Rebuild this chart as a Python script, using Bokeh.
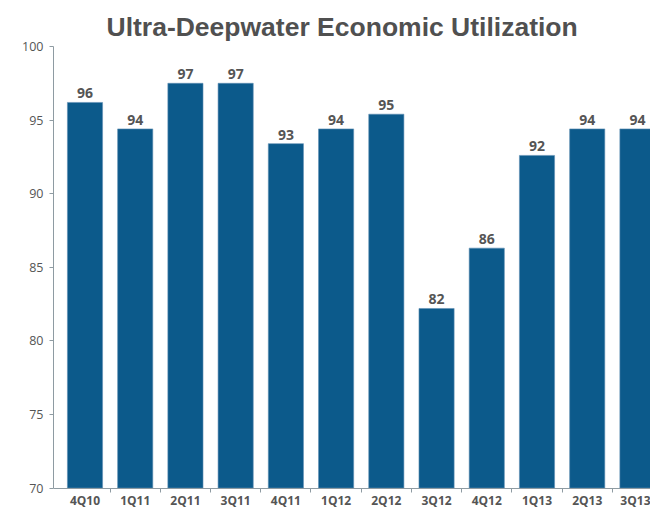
from bokeh.plotting import figure
from bokeh.models import ColumnDataSource, Range1d, FixedTicker
from bokeh.core.properties import value
from bokeh.embed import file_html
from bokeh.resources import INLINE

# Quarterly ultra-deepwater economic utilization (%)
quarters = ["4Q10", "1Q11", "2Q11", "3Q11", "4Q11", "1Q12",
            "2Q12", "3Q12", "4Q12", "1Q13", "2Q13", "3Q13"]
utilization = [96.2, 94.4, 97.5, 97.5, 93.4, 94.4,
               95.4, 82.2, 86.3, 92.6, 94.4, 94.4]
y_ticks = [70, 75, 80, 85, 90, 95, 100]

BAR_COLOR = "#0c5a8b"
TEXT_COLOR = "#555555"
AXIS_COLOR = "#8e9ba2"
Y_MIN, Y_MAX = 70, 100
# the frame runs a little below the axis floor so the quarter names fit inside it
Y_FLOOR = 68.61

xs = list(range(len(quarters)))
labels = [str(int(v)) for v in utilization]
src = ColumnDataSource(dict(x=xs, top=utilization, label=labels))

p = figure(width=650, height=508, output_backend="svg", toolbar_location=None,
           x_range=Range1d(-0.627, 11.26), y_range=Range1d(Y_FLOOR, Y_MAX),
           min_border_left=53, min_border_right=0, min_border_top=46,
           min_border_bottom=0)
p.outline_line_color = None
p.grid.visible = False
p.background_fill_color = "white"
p.border_fill_color = "white"

p.title.text = "Ultra-Deepwater Economic Utilization"
p.title.text_font = "Liberation Sans"
p.title.text_font_size = "26.5px"
p.title.text_font_style = "bold"
p.title.text_color = "#505050"
p.title.align = "left"
p.title.offset = 53

p.vbar(x="x", top="top", bottom=Y_MIN, width=0.7, source=src,
       fill_color=BAR_COLOR, line_color="#5f8fb4", line_width=0.6)

p.text(x="x", y="top", text="label", source=src,
       text_align="center", text_baseline="alphabetic", y_offset=-9,
       text_font=value("Open Sans"), text_font_size="14px",
       text_font_style="bold", text_color=TEXT_COLOR)

# x axis pinned at the 70 line: names under bars, small ticks between them
xa = p.xaxis[0]
xa.fixed_location = Y_MIN
xa.ticker = FixedTicker(ticks=xs, minor_ticks=[i + 0.5 for i in xs[:-1]])
xa.major_label_overrides = {i: q for i, q in zip(xs, quarters)}
xa.major_tick_out = 0
xa.major_tick_in = 0
xa.minor_tick_out = 4
xa.minor_tick_in = 0
xa.minor_tick_line_color = AXIS_COLOR
xa.axis_line_color = AXIS_COLOR
xa.major_label_standoff = 0
xa.major_label_text_font = "Open Sans"
xa.major_label_text_font_size = "12px"
xa.major_label_text_font_style = "bold"
xa.major_label_text_color = TEXT_COLOR

ya = p.yaxis[0]
ya.bounds = (Y_MIN, Y_MAX)
ya.ticker = FixedTicker(ticks=y_ticks)
ya.major_tick_out = 4
ya.major_tick_in = 0
ya.minor_tick_out = 0
ya.minor_tick_in = 0
ya.major_tick_line_color = AXIS_COLOR
ya.axis_line_color = AXIS_COLOR
ya.major_label_standoff = 6
ya.major_label_text_font = "Open Sans"
ya.major_label_text_font_size = "12.5px"
ya.major_label_text_color = TEXT_COLOR

open("out.html", "w").write(file_html(p, INLINE))
